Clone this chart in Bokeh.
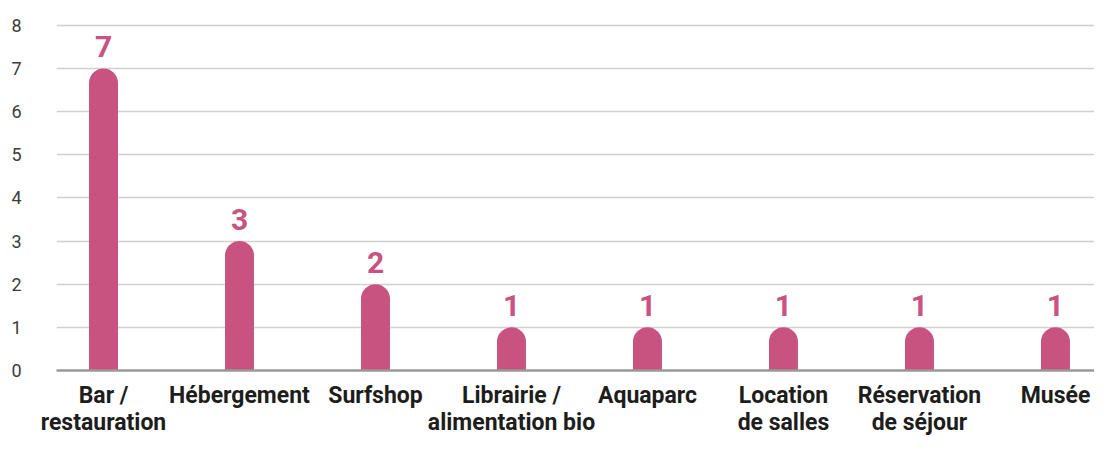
from bokeh.plotting import figure
from bokeh.models import ColumnDataSource, Range1d, FixedTicker
from bokeh.core.properties import value
from bokeh.embed import file_html
from bokeh.resources import INLINE

categories = ["Bar /\nrestauration", "Hébergement", "Surfshop", "Librairie /\nalimentation bio",
              "Aquaparc", "Location\nde salles", "Réservation\nde séjour", "Musée"]
counts = [7, 3, 2, 1, 1, 1, 1, 1]
y_ticks = [0, 1, 2, 3, 4, 5, 6, 7, 8]

BAR = "#c85380"
xs = list(range(len(categories)))
src = ColumnDataSource(dict(x=xs, top=counts, label=[str(c) for c in counts]))

p = figure(width=1094, height=438, output_backend="svg", toolbar_location=None,
           x_range=Range1d(-0.3456, 7.287), y_range=Range1d(0, 8.457),
           min_border_left=56, min_border_right=0, min_border_top=5, min_border_bottom=63)
p.outline_line_color = None
p.background_fill_color = "white"
p.border_fill_color = "white"

p.vbar(x="x", top="top", width=0.213, bottom=0, source=src, fill_color=BAR,
       line_color=None, border_radius=(15, 15, 0, 0))

p.text(x="x", y="top", text="label", source=src, text_align="center",
       text_baseline="alphabetic", y_offset=-22, text_color=BAR,
       text_font=value("Roboto"), text_font_style="bold", text_font_size="30px")

# grid
p.xgrid.visible = False
p.ygrid.ticker = FixedTicker(ticks=y_ticks)
p.ygrid.grid_line_color = "#d0d0d0"
p.ygrid.grid_line_width = 1.5

# y axis
p.yaxis.ticker = FixedTicker(ticks=y_ticks)
p.yaxis.axis_line_color = None
p.yaxis.major_tick_line_color = None
p.yaxis.minor_tick_line_color = None
p.yaxis.major_tick_out = 0
p.yaxis.major_label_standoff = 35
p.yaxis.major_label_text_font = "Roboto"
p.yaxis.major_label_text_font_size = "18px"
p.yaxis.major_label_text_color = "#3c3c3b"

# x axis
p.xaxis.ticker = FixedTicker(ticks=xs)
p.xaxis.major_label_overrides = {i: c for i, c in zip(xs, categories)}
p.xaxis.axis_line_color = "#999999"
p.xaxis.axis_line_width = 2.5
p.xaxis.major_tick_line_color = None
p.xaxis.minor_tick_line_color = None
p.xaxis.major_tick_out = 0
p.xaxis.major_label_standoff = 11
p.xaxis.major_label_text_font = "Roboto"
p.xaxis.major_label_text_font_style = "bold"
p.xaxis.major_label_text_font_size = "23px"
p.xaxis.major_label_text_color = "#1d1d1b"
p.xaxis.major_label_text_line_height = 1.0

open("out.html", "w").write(file_html(p, INLINE))
